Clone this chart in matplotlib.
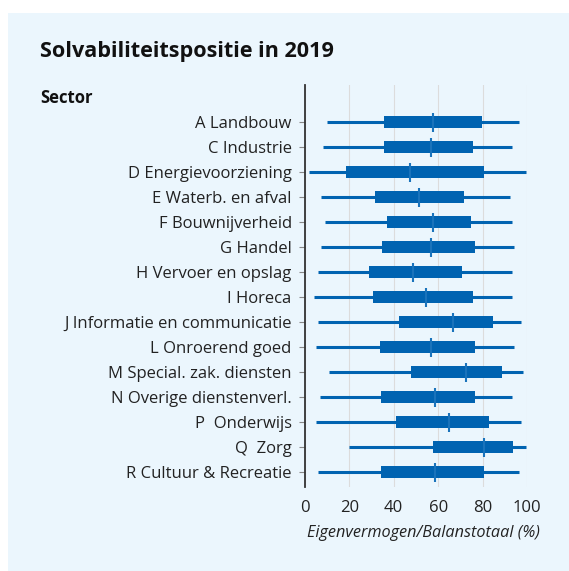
import matplotlib
matplotlib.use('Agg')
import matplotlib.pyplot as plt
import matplotlib.patches as patches

sectors = ['A Landbouw', 'C Industrie', 'D Energievoorziening', 'E Waterb. en afval',
           'F Bouwnijverheid', 'G Handel', 'H Vervoer en opslag', 'I Horeca',
           'J Informatie en communicatie', 'L Onroerend goed', 'M Special. zak. diensten',
           'N Overige dienstenverl.', 'P  Onderwijs', 'Q  Zorg', 'R Cultuur & Recreatie']

whisker_low = [9.8, 8.0, 2.0, 7.1, 9.1, 7.1, 6.0, 4.0, 6.0, 4.9, 11.0, 6.8, 4.9, 20.0, 6.0]
q1 = [35.6, 35.6, 18.4, 31.7, 36.8, 34.6, 28.7, 30.5, 42.5, 33.8, 47.7, 34.4, 40.9, 57.6, 34.4]
median = [57.7, 56.7, 47.5, 51.5, 57.6, 56.7, 48.8, 54.5, 66.7, 56.7, 72.7, 58.6, 64.8, 80.8, 58.6]
q3 = [79.9, 75.9, 80.5, 71.8, 74.7, 76.5, 70.8, 75.9, 84.6, 76.5, 88.6, 76.5, 82.9, 93.7, 80.5]
whisker_high = [96.4, 93.4, 99.4, 92.4, 93.4, 94.3, 93.4, 93.4, 97.3, 94.3, 98.1, 93.3, 97.3, 99.4, 96.4]

blue = '#0063b1'
text_color = '#222222'
plt.rcParams['font.family'] = ['Open Sans', 'DejaVu Sans']

fig = plt.figure(figsize=(5.69, 5.71), dpi=100)
fig.patch.set_facecolor('white')
fig.patches.append(patches.Rectangle((8 / 569, 0), 1, 1 - 13 / 571, transform=fig.transFigure,
                                     facecolor='#ebf6fd', edgecolor='none', zorder=-10))

ax = fig.add_axes([0.5359, 0.1471, 0.3902, 0.704])
ax.set_facecolor('none')

pos = list(range(len(sectors)))
ax.hlines(pos, whisker_low, whisker_high, color=blue, linewidth=2.2, zorder=3)
ax.barh(pos, [b - a for a, b in zip(q1, q3)], left=q1, height=0.48, color=blue, zorder=4)
ax.vlines(median, [p - 0.38 for p in pos], [p + 0.38 for p in pos], color='#1a73bb',
          linewidth=1.5, zorder=5)

ax.set_xlim(0, 100)
ax.set_ylim(14.6, -1.48)
ax.set_xticks([0, 20, 40, 60, 80, 100])
ax.set_yticks(pos)
ax.set_yticklabels(sectors, fontsize=12, color=text_color)
ax.tick_params(axis='x', length=0, pad=9, labelsize=12, labelcolor=text_color)
ax.tick_params(axis='y', length=4.5, width=0.8, color='#888888', pad=5)
ax.grid(axis='x', color='#dcdcdc', linewidth=0.8, zorder=0)
ax.set_axisbelow(True)
for side in ['top', 'right', 'bottom']:
    ax.spines[side].set_visible(False)
ax.spines['left'].set_color('#333333')
ax.spines['left'].set_linewidth(1.3)
ax.spines['left'].set_zorder(6)

ax.set_xlabel('Eigenvermogen/Balanstotaal (%)', fontsize=11.7, style='italic',
              color=text_color, labelpad=7)
ax.xaxis.label.set_x(0.536)

fig.text(40 / 569, 1 - 51 / 571, 'Solvabiliteitspositie in 2019', fontsize=15.6,
         weight='bold', color='#111111', va='center', ha='left')
fig.text(40 / 569, 1 - 98 / 571, 'Sector', fontsize=12, weight='bold',
         color='#111111', va='center', ha='left')

fig.savefig('out.png', dpi=100)
